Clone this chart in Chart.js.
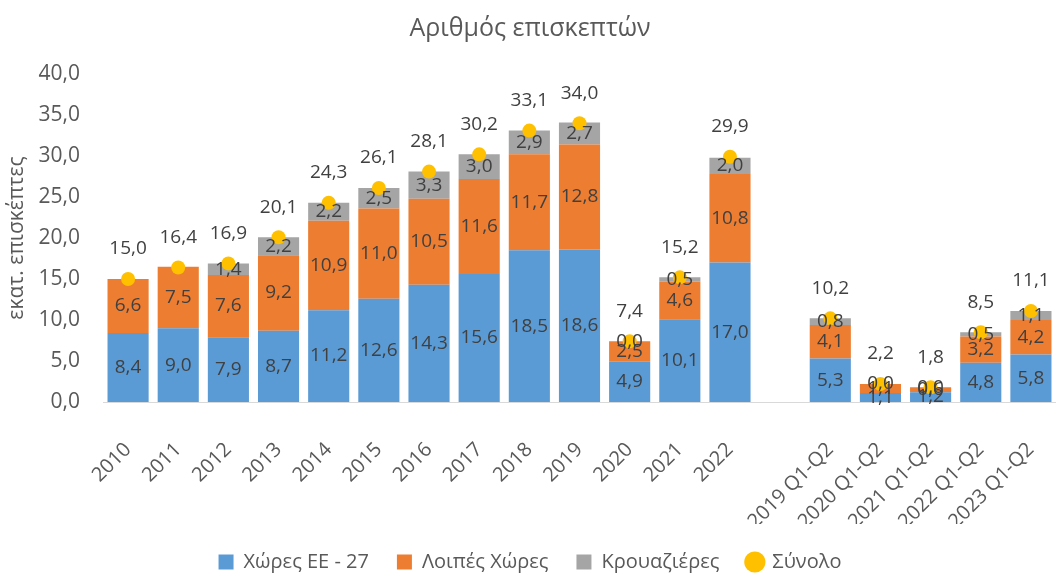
<!DOCTYPE html>
<html>
<head>
<meta charset="utf-8">
<script src="https://cdn.jsdelivr.net/npm/chart.js@4"></script>
<style>
body{margin:0;background:#fff;}
#wrap{width:1056px;height:574px;}
</style>
</head>
<body>
<div id="wrap"><canvas id="visitChart"></canvas></div>
<script>
// κατηγορίες (κενή θέση ανάμεσα στα έτη και τα εξάμηνα)
const labels = ['2010','2011','2012','2013','2014','2015','2016','2017','2018','2019','2020','2021','2022','',
    '2019 Q1-Q2','2020 Q1-Q2','2021 Q1-Q2','2022 Q1-Q2','2023 Q1-Q2'];
const euVals = [8.4, 9.0, 7.9, 8.7, 11.2, 12.6, 14.3, 15.6, 18.5, 18.6, 4.9, 10.1, 17.0, null, 5.3, 1.1, 1.2, 4.8, 5.8];
const otherVals = [6.6, 7.5, 7.6, 9.2, 10.9, 11.0, 10.5, 11.6, 11.7, 12.8, 2.5, 4.6, 10.8, null, 4.1, 1.1, 0.6, 3.2, 4.2];
const cruiseVals = [null, null, 1.4, 2.2, 2.2, 2.5, 3.3, 3.0, 2.9, 2.7, 0.0, 0.5, 2.0, null, 0.8, 0.0, 0.0, 0.5, 1.1];
const totalVals = [15.0, 16.4, 16.9, 20.1, 24.3, 26.1, 28.1, 30.2, 33.1, 34.0, 7.4, 15.2, 29.9, null, 10.2, 2.2, 1.8, 8.5, 11.1];
const yTicks = [0, 5, 10, 15, 20, 25, 30, 35, 40];

const FONT = "'Open Sans', 'Noto Sans', sans-serif";
const TXT = '#595959';

function fmt(v){
    return v.toFixed(1).replace('.', ',');
}

// ετικέτες τιμών πάνω στις μπάρες και πάνω από το σύνολο
const valueLabels = {
    id: 'valueLabels',
    afterDatasetsDraw(chart){
        const ctx = chart.ctx;
        ctx.save();
        ctx.font = '19px ' + FONT;
        ctx.fillStyle = '#404040';
        ctx.textAlign = 'center';
        ctx.textBaseline = 'middle';
        chart.data.datasets.forEach((ds, i) => {
            const meta = chart.getDatasetMeta(i);
            meta.data.forEach((el, j) => {
                const v = ds.data[j];
                if (v === null || v === undefined) return;
                if (ds.type === 'line') {
                    ctx.fillText(fmt(v), el.x, el.y - 30);
                } else {
                    ctx.fillText(fmt(v), el.x, (el.y + el.base) / 2);
                }
            });
        });
        ctx.restore();
    }
};

const ctx = document.getElementById('visitChart').getContext('2d');
const myChart = new Chart(ctx, {
    type: 'bar',
    plugins: [valueLabels],
    data: {
        labels: labels,
        datasets: [{
            label: 'Χώρες ΕΕ - 27',
            data: euVals,
            backgroundColor: '#5B9BD5',
            stack: 'bars',
            order: 2
        },{
            label: 'Λοιπές Χώρες',
            data: otherVals,
            backgroundColor: '#ED7D31',
            stack: 'bars',
            order: 2
        },{
            label: 'Κρουαζιέρες',
            data: cruiseVals,
            backgroundColor: '#A5A5A5',
            stack: 'bars',
            order: 2
        },{
            type: 'line',
            label: 'Σύνολο',
            data: totalVals,
            showLine: false,
            pointRadius: 7,
            pointHoverRadius: 7,
            pointBackgroundColor: '#FFC000',
            pointBorderWidth: 0,
            backgroundColor: '#FFC000',
            borderColor: '#FFC000',
            stack: 'total',
            order: 1
        }]
    },
    options: {
        responsive: true,
        maintainAspectRatio: false,
        animation: false,
        devicePixelRatio: 1,
        datasets: {
            bar: {categoryPercentage: 1, barPercentage: 0.82, borderWidth: 0}
        },
        layout: {autoPadding: false, padding: {top: 0, right: 0, bottom: -8, left: 4}},
        scales: {
            x: {
                stacked: true,
                grid: {display: false, drawTicks: false},
                border: {display: true, color: '#D9D9D9', width: 1},
                afterFit: (s) => { s.paddingRight = 0; s.paddingLeft = 0; s.height = 122; },
                ticks: {
                    autoSkip: false,
                    maxRotation: 45,
                    minRotation: 45,
                    color: TXT,
                    font: {family: FONT, size: 20},
                    padding: 36
                }
            },
            y: {
                stacked: true,
                min: 0,
                max: 40,
                afterBuildTicks: (axis) => { axis.ticks = yTicks.map(v => ({value: v})); },
                afterFit: (s) => { s.width = 99; },
                grid: {display: false, drawTicks: false},
                border: {display: false},
                ticks: {
                    color: TXT,
                    font: {family: FONT, size: 21},
                    padding: 23,
                    callback: (v) => fmt(v)
                },
                title: {
                    display: true,
                    text: 'εκατ. επισκέπτες',
                    color: TXT,
                    font: {family: FONT, size: 21},
                    padding: {top: 0, bottom: 8}
                }
            }
        },
        plugins: {
            title: {
                display: true,
                text: 'Αριθμός επισκεπτών',
                color: TXT,
                font: {family: FONT, size: 25, weight: 'normal'},
                padding: {top: 14, bottom: 30}
            },
            legend: {
                position: 'bottom',
                labels: {
                    usePointStyle: true,
                    color: TXT,
                    font: {family: FONT, size: 20},
                    boxWidth: 15,
                    boxHeight: 15,
                    padding: 28,
                    generateLabels: (chart) => chart.data.datasets.map((ds, i) => ({
                        text: ds.label,
                        fillStyle: ds.type === 'line' ? '#FFC000' : ds.backgroundColor,
                        strokeStyle: 'rgba(0,0,0,0)',
                        lineWidth: 0,
                        pointStyle: ds.type === 'line' ? 'circle' : 'rect',
                        fontColor: TXT,
                        datasetIndex: i
                    }))
                }
            },
            tooltip: {enabled: false}
        }
    }
});
</script>
</body>
</html>
